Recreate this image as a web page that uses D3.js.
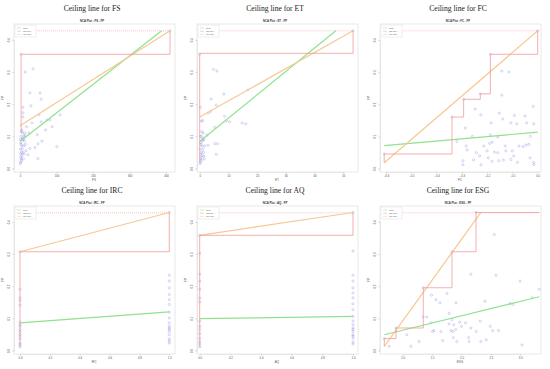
<!DOCTYPE html>
<html><head><meta charset="utf-8">
<script src="https://cdn.jsdelivr.net/npm/d3@7"></script>
<style>body{margin:0;background:#fff}svg{display:block}</style>
</head><body>
<svg id="c" width="550" height="369"></svg>
<script>
// ---------- DATA ----------
const conditions = ["FS", "ET", "FC", "IRC", "AQ", "ESG"];
const outcome = "FP";
const yTicks = [0, 0.1, 0.2, 0.3, 0.4];
const yMax = 0.428;
const legendLabels = ["OLS", "CE-FDH", "CR-FDH"];

const xTicksFS = [0, 100, 200, 300, 400];
const xTicksET = [0, 10, 20, 30, 40, 50];
const xTicksFC = [-0.6, -0.5, -0.4, -0.3, -0.2, -0.1, 0.0];
const xTicksIRC = [0, 0.2, 0.4, 0.6, 0.8, 1.0];
const xTicksAQ = [0, 0.2, 0.4, 0.6, 0.8, 1.0];
const xTicksESG = [1.0, 1.5, 2.0, 2.5, 3.0];

const xRangeFS = [3, 411], xRangeET = [0, 53.4], xRangeFC = [-0.607, 0], xRangeIRC = [0, 1], xRangeAQ = [0, 1], xRangeESG = [0.687, 3.323];

const pointsFS = [[14,0.30],[36,0.31],[27,0.235],[55,0.235],[58,0.215],[30,0.195],[8,0.19],[8,0.173],[8,0.16],[52,0.167],[33,0.142],[58,0.145],[74,0.151],[82,0.151],[88,0.130],[110,0.167],[47,0.105],[14,0.102],[49,0.077],[41,0.065],[101,0.068],[27,0.062],[49,0.031],[22,0.043],[60,0.085],[70,0.12],[18,0.13],[25,0.11],
 [2,0.02],[3,0.03],[4,0.05],[1,0.06],[5,0.07],[2,0.08],[6,0.09],[3,0.1],[7,0.11],[4,0.115],[9,0.09],[10,0.07],[11,0.1],[12,0.085],[1,0.015],[2,0.035],[5,0.04],[8,0.05],[6,0.06],[3,0.075],[9,0.03],[4,0.025],[7,0.095],[13,0.11],[2,0.045],[15,0.075],[16,0.055],[11,0.045],[1,0.09],[5,0.12],[3,0.355],[411,0.428]];
const ceilingFS = [[3,0.11],[3,0.355],[411,0.355],[411,0.428]];
const olsFS = [[0,0.084],[388,0.428]];
const crFS = [[0,0.133],[411,0.428]];

const pointsET = [[4.8,0.308],[6,0.303],[4,0.216],[8.4,0.231],[0.2,0.19],[5.8,0.197],[3.8,0.177],[2.9,0.172],[1,0.149],[0.6,0.147],[8.7,0.162],[16.8,0.244],[9.3,0.148],[10.4,0.145],[14.8,0.141],[16,0.139],[5.2,0.128],[2.6,0.104],[5.2,0.077],[6.2,0.077],[5.8,0.044],[1.4,0.038],[2.9,0.072],
 [0.2,0.02],[0.4,0.03],[0.6,0.05],[0.1,0.06],[0.8,0.07],[0.3,0.08],[1.0,0.09],[0.5,0.1],[1.2,0.11],[0.7,0.115],[1.5,0.09],[1.7,0.07],[0.2,0.1],[0.9,0.085],[0.1,0.015],[0.3,0.035],[0.9,0.04],[1.3,0.05],[1.1,0.06],[0.4,0.075],[1.6,0.03],[0.6,0.025],[1.2,0.095],[0.3,0.045],[0.0,0.355],[53.4,0.428]];
const ceilingET = [[0,0.02],[0,0.358],[53.4,0.358],[53.4,0.428]];
const olsET = [[0,0.084],[47.4,0.428]];
const crET = [[0,0.16],[53.4,0.428]];

const pointsFC = [[-0.142,0.303],[-0.114,0.3],[-0.142,0.228],[-0.247,0.185],[-0.225,0.167],[-0.32,0.084],[-0.286,0.126],[-0.258,0.1],[-0.184,0.142],[-0.152,0.172],[-0.138,0.154],[-0.106,0.142],[-0.083,0.139],[-0.092,0.165],[-0.05,0.163],[-0.044,0.142],[-0.018,0.193],[-0.016,0.139],[-0.029,0.1],[-0.187,0.105],[-0.158,0.098],[-0.283,0.07],[-0.279,0.058],[-0.296,0.024],[-0.296,0.012],[-0.254,0.027],[-0.224,0.012],[-0.213,0.07],[-0.19,0.078],[-0.18,0.082],[-0.171,0.051],[-0.195,0.033],[-0.18,0.022],[-0.154,0.024],[-0.136,0.026],[-0.128,0.07],[-0.126,0.055],[-0.106,0.028],[-0.08,0.019],[-0.074,0.07],[-0.058,0.068],[-0.046,0.073],[-0.035,0.075],[-0.03,0.033],[-0.016,0.019],[-0.015,0.012],[-0.243,0.049],[-0.23,0.039],[-0.2,0.055],[-0.158,0.049],[-0.1,0.055],[-0.095,0.039],
 [-0.339,0.16],[-0.293,0.215],[-0.227,0.232],[-0.187,0.355],[0,0.428],[-0.607,0.045]];
const ceilingFC = [[-0.607,0.018],[-0.607,0.045],[-0.339,0.045],[-0.339,0.16],[-0.293,0.16],[-0.293,0.215],[-0.227,0.215],[-0.227,0.232],[-0.187,0.232],[-0.187,0.355],[0,0.355],[0,0.428]];
const olsFC = [[-0.607,0.071],[0,0.113]];
const crFC = [[-0.607,0.018],[0,0.428]];

const pointsIRC = [[0,0.307],[0,0.19],[0,0.164],[0,0.155],[0,0.141],[0,0.088],[0,0.075],[0,0.065],[0,0.059],[0,0.044],[0,0.036],[0,0.023],[0,0.018],[0,0.011],[0,0.08],[0,0.05],
 [1,0.429],[1,0.234],[1,0.216],[1,0.195],[1,0.174],[1,0.158],[1,0.143],[1,0.119],[1,0.101],[1,0.086],[1,0.075],[1,0.07],[1,0.059],[1,0.049],[1,0.036],[1,0.023],[1,0.065],[1,0.03]];
const ceilingIRC = [[0,0.011],[0,0.307],[1,0.307],[1,0.429]];
const olsIRC = [[0,0.086],[1,0.12]];
const crIRC = [[0,0.307],[1,0.429]];

const pointsAQ = [[0,0.358],[0,0.302],[0,0.237],[0,0.216],[0,0.19],[0,0.164],[0,0.151],[0,0.091],[0,0.075],[0,0.065],[0,0.052],[0,0.038],[0,0.028],[0,0.02],[0,0.011],
 [1,0.429],[1,0.309],[1,0.234],[1,0.216],[1,0.195],[1,0.179],[1,0.164],[1,0.145],[1,0.127],[1,0.106],[1,0.092],[1,0.08],[1,0.07],[1,0.059],[1,0.049],[1,0.038],[1,0.026],[1,0.02],[1,0.065],[1,0.045]];
const ceilingAQ = [[0,0.011],[0,0.358],[1,0.358],[1,0.429]];
const olsAQ = [[0,0.099],[1,0.106]];
const crAQ = [[0,0.358],[1,0.429]];

const pointsESG = [[2.558,0.36],[2.16,0.237],[2.587,0.234],[2.995,0.216],[3.323,0.19],[1.753,0.177],[1.49,0.172],[1.566,0.158],[1.634,0.148],[1.906,0.148],[2.4,0.153],[2.83,0.146],[2.88,0.143],[3.2,0.164],[1.48,0.086],[1.35,0.104],[1.508,0.059],[1.53,0.062],[1.79,0.083],[1.82,0.062],[1.85,0.059],[1.9,0.065],[2.0,0.075],[2.07,0.086],[2.12,0.04],[2.16,0.07],[2.32,0.091],[2.42,0.033],[2.49,0.075],[2.53,0.062],[2.63,0.062],[2.25,0.059],[1.65,0.059],[1.68,0.031],[1.92,0.028],[2.13,0.028],[2.33,0.028],[3.03,0.017],[1.41,0.104],[1.28,0.028],[1.14,0.013],[1.07,0.049],[0.886,0.059],[0.77,0.013],[1.84,0.096],[1.87,0.08],[1.97,0.088],[1.86,0.04],[1.79,0.115],
 [0.687,0.037],[0.886,0.07],[1.35,0.195],[1.838,0.307],[2.247,0.429]];
const ceilingESG = [[0.687,0.013],[0.687,0.037],[0.886,0.037],[0.886,0.07],[1.35,0.07],[1.35,0.195],[1.838,0.195],[1.838,0.307],[2.247,0.307],[2.247,0.429],[3.323,0.429]];
const olsESG = [[0.687,0.049],[3.323,0.167]];
const crESG = [[0.687,0.013],[2.33,0.429]];

// ---------- LAYOUT ----------
const panels = [
  {name:"FS", ticks:xTicksFS, range:xRangeFS, pts:pointsFS, ce:ceilingFS, ols:olsFS, cr:crFS, px:[20,166], ox:0, oy:0},
  {name:"ET", ticks:xTicksET, range:xRangeET, pts:pointsET, ce:ceilingET, ols:olsET, cr:crET, px:[16.7,160.3], ox:183, oy:0},
  {name:"FC", ticks:xTicksFC, range:xRangeFC, pts:pointsFC, ce:ceilingFC, ols:olsFC, cr:crFC, px:[20,171.7], ox:366, oy:0},
  {name:"IRC", ticks:xTicksIRC, range:xRangeIRC, pts:pointsIRC, ce:ceilingIRC, ols:olsIRC, cr:crIRC, px:[20,169.3], ox:0, oy:182},
  {name:"AQ", ticks:xTicksAQ, range:xRangeAQ, pts:pointsAQ, ce:ceilingAQ, ols:olsAQ, cr:crAQ, px:[16.7,170], ox:183, oy:182},
  {name:"ESG", ticks:xTicksESG, range:xRangeESG, pts:pointsESG, ce:ceilingESG, ols:olsESG, cr:crESG, px:[36.7,154.3], ox:366, oy:182}
];
const domainFor = p => { const t = p.ticks; return [t[0], t[t.length-1]]; };

const colRed = "#f29a9a", colOrange = "#f7c894", colGreen = "#8fe28f", colPt = "#5b5bd6", frame = "#dadada";

const svg = d3.select("#c");
const line = (x, y) => d3.line().x(d => x(d[0])).y(d => y(d[1]));

panels.forEach(p => {
  const g = svg.append("g").attr("transform", `translate(${p.ox},${p.oy})`);
  const x = d3.scaleLinear().domain(domainFor(p)).range(p.px);
  const y = d3.scaleLinear().domain([0, 0.4]).range([168.5, 39.8]);

  g.append("text").attr("x", 92).attr("y", 10.5).attr("text-anchor", "middle")
    .attr("font-family", "Liberation Serif, serif").attr("font-size", 7.6).attr("fill", "#222")
    .text("Ceiling line for " + p.name);
  g.append("text").attr("x", 92).attr("y", 21.5).attr("text-anchor", "middle")
    .attr("font-family", "Liberation Sans, sans-serif").attr("font-weight", "bold").attr("font-size", 2.8).attr("fill", "#333")
    .text("NCA Plot : " + p.name + " - " + outcome);

  g.append("rect").attr("x", 14).attr("y", 24).attr("width", 161).attr("height", 148)
    .attr("fill", "none").attr("stroke", frame).attr("stroke-width", 0.6);

  const xa = g.append("g").attr("transform", "translate(0,172)")
    .call(d3.axisBottom(x).tickValues(p.ticks).tickSize(1.5).tickFormat(d3.format(p.name==="FS"||p.name==="ET" ? "d" : ".1f")));
  const ya = g.append("g").attr("transform", "translate(14,0)")
    .call(d3.axisLeft(y).tickValues(yTicks).tickSize(1.5).tickFormat(d3.format(".1f")));
  [xa, ya].forEach(a => {
    a.select(".domain").attr("stroke", frame).attr("stroke-width", 0.5);
    a.selectAll(".tick line").attr("stroke", "#aaa").attr("stroke-width", 0.4);
    a.selectAll(".tick text").attr("font-size", 2.8).attr("fill", "#555").attr("font-family", "Liberation Sans, sans-serif");
  });
  xa.selectAll(".tick text").attr("y", 2.5).attr("dy", "0.9em");
  ya.selectAll(".tick text").attr("transform", "rotate(-90)")
    .attr("x", 0).attr("y", -4.5).attr("dy", 0).attr("text-anchor", "middle");
  g.append("text").attr("x", 94).attr("y", 181).attr("text-anchor", "middle")
    .attr("font-size", 3).attr("fill", "#555").attr("font-family", "Liberation Sans, sans-serif").text(p.name);
  g.append("text").attr("transform", "translate(4,98) rotate(-90)").attr("text-anchor", "middle")
    .attr("font-size", 3).attr("fill", "#555").attr("font-family", "Liberation Sans, sans-serif").text(outcome);

  const x0 = p.range[0], x1 = p.range[1];
  g.append("path").attr("d", line(x, y)([[x0, yMax],[x1, yMax]]))
    .attr("fill", "none").attr("stroke", colRed).attr("stroke-width", 0.6).attr("stroke-dasharray", "1,1");

  g.append("g").selectAll("circle").data(p.pts).join("circle")
    .attr("cx", d => x(d[0])).attr("cy", d => y(d[1])).attr("r", 1.1)
    .attr("fill", "none").attr("stroke", colPt).attr("stroke-width", 0.45).attr("opacity", 0.55);

  g.append("path").attr("d", line(x, y)(p.ols)).attr("fill", "none").attr("stroke", colGreen).attr("stroke-width", 1.2);
  g.append("path").attr("d", line(x, y)(p.cr)).attr("fill", "none").attr("stroke", colOrange).attr("stroke-width", 1.2);
  g.append("path").attr("d", line(x, y)(p.ce)).attr("fill", "none").attr("stroke", colRed).attr("stroke-width", 0.8);

  const lg = g.append("g").attr("transform", "translate(15,25)");
  lg.append("rect").attr("width", 21).attr("height", 12).attr("fill", "#fff").attr("stroke", "#ddd").attr("stroke-width", 0.5);
  [colGreen, colRed, colOrange].forEach((c, i) => {
    lg.append("line").attr("x1", 2).attr("x2", 6).attr("y1", 3 + i*3.2).attr("y2", 3 + i*3.2).attr("stroke", c).attr("stroke-width", 0.5);
    lg.append("text").attr("x", 8).attr("y", 3.8 + i*3.2).attr("font-size", 2.2).attr("fill", "#666")
      .attr("font-family", "Liberation Sans, sans-serif").text(legendLabels[i]);
  });
});
</script>
</body></html>
